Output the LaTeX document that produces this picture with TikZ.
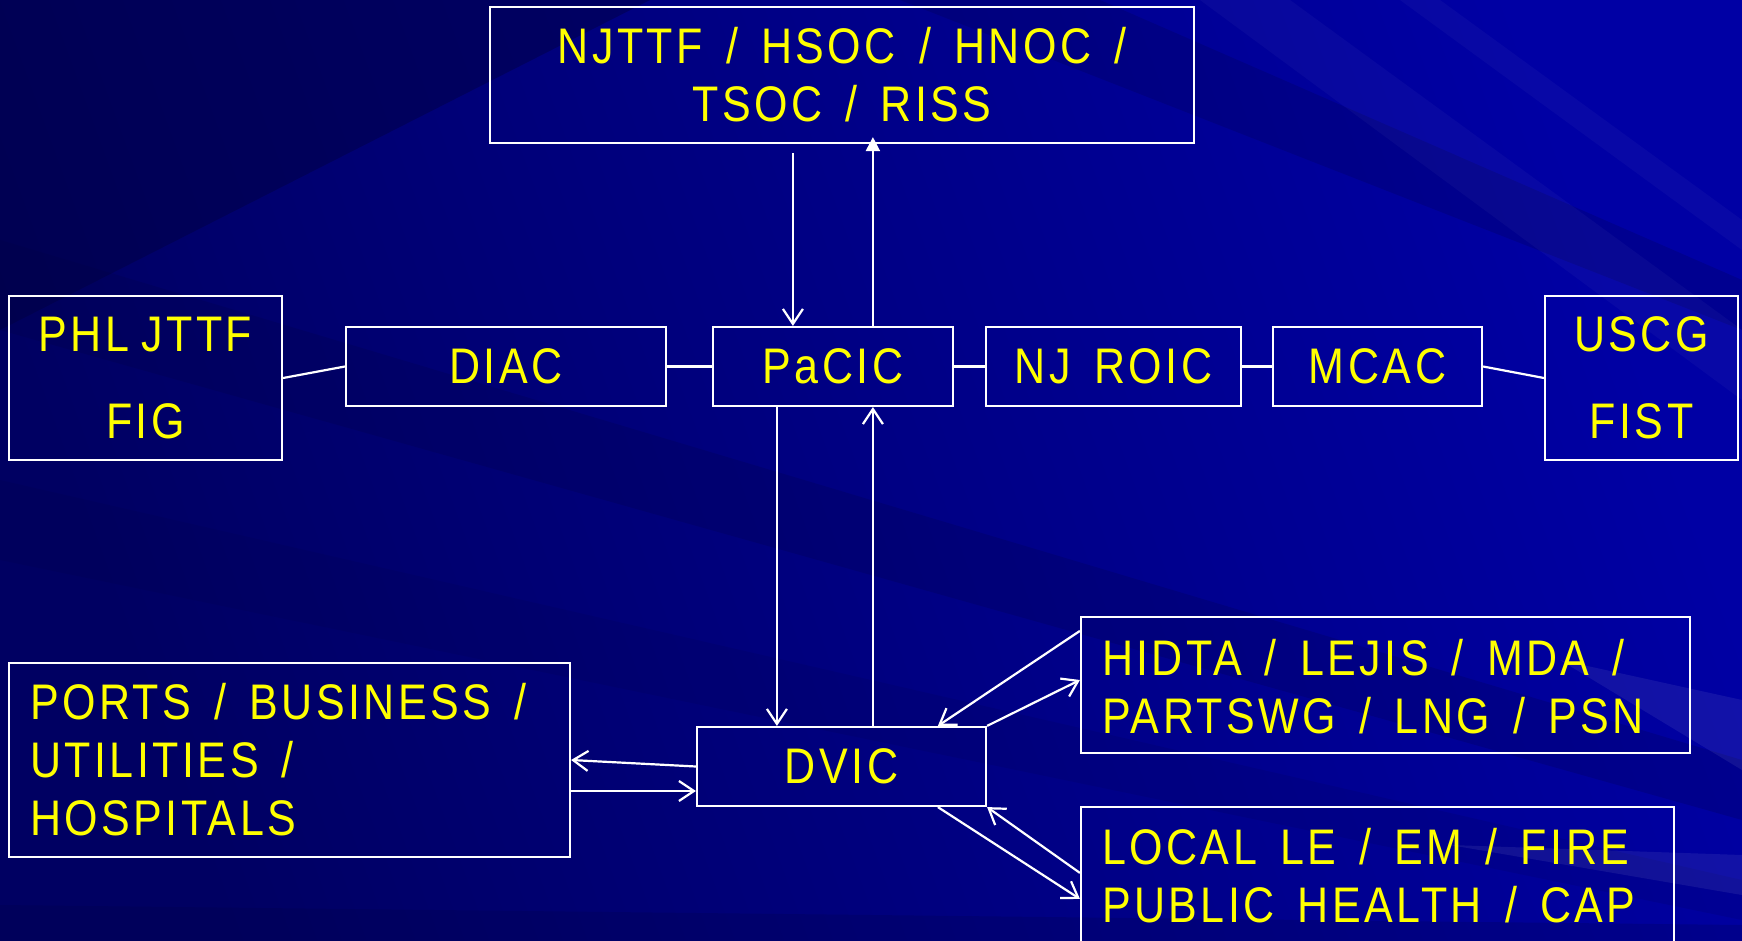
\documentclass[tikz,border=0pt]{standalone}
\usepackage{fontspec}
\setmainfont{Liberation Sans}[FakeStretch=0.86,LetterSpace=7,WordSpace=1.5]
\usetikzlibrary{arrows.meta,calc}
\definecolor{bgdark}{HTML}{000062}
\definecolor{bgcorner}{HTML}{000040}
\definecolor{bglight}{HTML}{0000A4}
\definecolor{txt}{HTML}{FFFF00}
\begin{document}
\begin{tikzpicture}[x=1pt,y=-1pt,
  box/.style={draw=white, line width=2.2pt, text=txt, inner sep=0pt,
    font={\fontsize{50}{58}\selectfont}},
  lbox/.style={box, align=flush left, inner xsep=21pt},
  conn/.style={draw=white, line width=2.2pt},
  oarrow/.style={conn, -{Straight Barb[length=15pt,width=20pt,line width=2.2pt]}},
  farrow/.style={conn, -{Triangle[length=14pt,width=14pt]}},
]
\useasboundingbox (0,0) rectangle (1742,941);
% background
\shade[left color=bgdark, right color=bglight, shading angle=110] (0,0) rectangle (1742,941);
\begin{scope}
\clip (0,0) rectangle (1742,941);
\fill[bgcorner, opacity=0.45] (0,0) -- (650,0) -- (0,330) -- cycle;
\fill[bgcorner, opacity=0.2] (0,240) -- (1742,760) -- (1742,820) -- (0,330) -- cycle;
\fill[bgcorner, opacity=0.12] (0,480) -- (1742,880) -- (1742,920) -- (0,560) -- cycle;
\fill[bgcorner, opacity=0.2] (900,0) -- (1100,0) -- (1742,280) -- (1742,330) -- cycle;
\fill[white, opacity=0.03] (1200,0) -- (1290,0) -- (1742,330) -- (1742,400) -- cycle;
\fill[white, opacity=0.03] (1400,0) -- (1440,0) -- (1742,220) -- (1742,250) -- cycle;
\fill[white, opacity=0.07] (1560,660) -- (1742,700) -- (1742,770) -- cycle;
\fill[white, opacity=0.07] (1450,845) -- (1742,855) -- (1742,895) -- cycle;
\fill[bgcorner, opacity=0.2] (0,905) -- (1742,925) -- (1742,941) -- (0,941) -- cycle;
\end{scope}

% nodes
\node[box, minimum width=704pt, minimum height=136pt, align=center] (top) at (842,75)
  {NJTTF / HSOC / HNOC /\\TSOC / RISS};
\node[box, minimum width=273pt, minimum height=164pt, align=center,
  font={\fontsize{50}{87}\selectfont}] (phl) at (145.5,378) {PHL\hspace{12pt}JTTF\\FIG};
\node[box, minimum width=320pt, minimum height=79pt] (diac) at (506,366.5) {DIAC};
\node[box, minimum width=240pt, minimum height=79pt] (pacic) at (833,366.5) {PaCIC};
\node[box, minimum width=255pt, minimum height=79pt] (njroic) at (1113.5,366.5) {NJ ROIC};
\node[box, minimum width=209pt, minimum height=79pt] (mcac) at (1377.5,366.5) {MCAC};
\node[box, minimum width=193pt, minimum height=164pt, align=center,
  font={\fontsize{50}{87}\selectfont}] (uscg) at (1641.5,378) {USCG\\FIST};
\node[lbox, text width=519pt, minimum height=194pt] (ports) at (289.5,760)
  {PORTS / BUSINESS /\\UTILITIES /\\HOSPITALS};
\node[box, minimum width=289pt, minimum height=79pt] (dvic) at (841.5,766.5) {DVIC};
\node[lbox, text width=567pt, minimum height=136pt] (hidta) at (1385.5,685)
  {HIDTA / LEJIS / MDA /\\PARTSWG / LNG / PSN\par\vspace*{-4pt}};
\node[lbox, text width=551pt, minimum height=148pt] (local) at (1377.5,881)
  {LOCAL LE / EM / FIRE\\PUBLIC HEALTH / CAP\par\vspace*{11pt}};

% helper coordinates
\coordinate (pA) at ([xshift=81pt]pacic.north west);
\coordinate (pB) at ([xshift=161pt]pacic.north west);
\coordinate (pC) at ([xshift=65pt]pacic.south west);
\coordinate (pD) at ([xshift=161pt]pacic.south west);
\coordinate (topA) at ([yshift=-9pt]top.south);
\coordinate (dA) at ([xshift=81pt]dvic.north west);
\coordinate (dB) at ([xshift=177pt]dvic.north west);
\coordinate (dC) at ([xshift=242pt]dvic.north west);
\coordinate (dE) at ([xshift=242pt]dvic.south west);
\coordinate (hA) at ([yshift=-15pt]hidta.north west);
\coordinate (hB) at ([yshift=5pt]hidta.west);
\coordinate (lA) at ([yshift=-93pt]local.north west);
\coordinate (lB) at ([yshift=-67pt]local.north west);
\coordinate (prA) at ([yshift=-31pt]ports.east);

% connectors
\draw[conn] (phl.east) -- (diac.west);
\draw[conn] (diac.east) -- (pacic.west);
\draw[conn] (pacic.east) -- (njroic.west);
\draw[conn] (njroic.east) -- (mcac.west);
\draw[conn] (mcac.east) -- (uscg.west);

\draw[oarrow] (pA |- topA) -- (pA);
\draw[farrow, shorten >=-7pt] (pB) -- (pB |- top.south);
\draw[oarrow] (pC) -- (dA);
\draw[oarrow] (dB) -- (pD);

\draw[oarrow] (dvic.west) -- (ports.east);
\draw[oarrow] (prA) -- (prA -| dvic.west);

\draw[oarrow] (hA) -- (dC);
\draw[oarrow] (dvic.north east) -- (hB);
\draw[oarrow] (dE) -- (lA);
\draw[oarrow] (lB) -- (dvic.south east);
\end{tikzpicture}
\end{document}
